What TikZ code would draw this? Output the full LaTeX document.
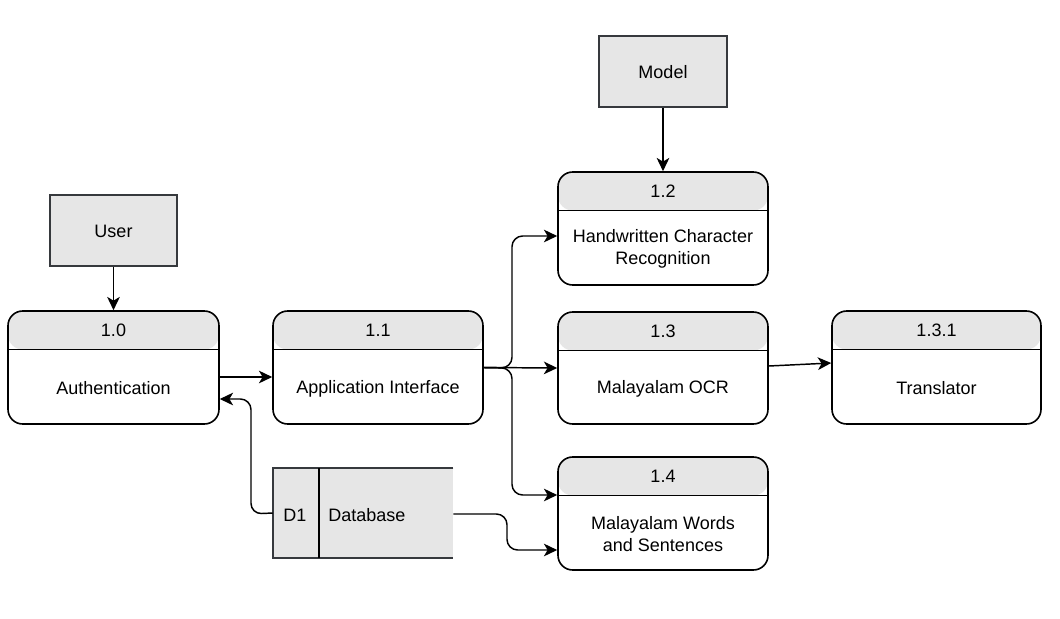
\documentclass[tikz,border=0pt]{standalone}
\usepackage{fontspec}
\setmainfont{Liberation Sans}
\usetikzlibrary{arrows.meta,fit,calc}
\definecolor{boxgray}{HTML}{E6E6E6}
\definecolor{edgegray}{HTML}{36393D}
\begin{document}
\begin{tikzpicture}[x=0.75pt,y=-0.75pt,
  every node/.style={font=\fontsize{13.5}{16}\selectfont, text=black},
  ext/.style={draw=edgegray, fill=boxgray, line width=1.2pt, inner sep=0pt},
  proc/.style={draw=black, fill=white, line width=1.2pt, rounded corners=11pt, inner sep=0pt,
    path picture={
      \fill[boxgray] (path picture bounding box.north west) rectangle ($(path picture bounding box.north east)+(0,38.5)$);
      \draw[line width=1.3pt] ($(path picture bounding box.north west)+(0,38.5)$) -- ($(path picture bounding box.north east)+(0,38.5)$);
    }},
  conn/.style={draw=black, line width=1.1pt, rounded corners=8pt, -{Stealth[length=10pt,width=9.5pt,inset=2.8pt]}},
  lbl/.style={align=center, inner sep=0pt}
]
\useasboundingbox[fill=white] (0,0) rectangle (1060,618);

% external entities
\node[ext, fit={(50,195)(177,266)}] (user) {};
\node[lbl] at ($(user.center)+(0,1)$) {User};
\node[ext, fit={(599,36)(727,107)}] (model) {};
\node[lbl] at ($(model.center)+(0,1)$) {Model};

% processes
\node[proc, fit={(8,311)(219,424)}] (p10) {};
\node[lbl] at (113.5,330.5) {1.0};
\node[lbl] at (113.5,388.5) {Authentication};

\node[proc, fit={(273,311)(483,424)}] (p11) {};
\node[lbl] at (378,330.5) {1.1};
\node[lbl] at (378,388.5) {Application Interface};

\node[proc, fit={(558,172)(768,285)}] (p12) {};
\node[lbl] at (663,191) {1.2};
\node[lbl] at (663,249) {Handwritten Character\\Recognition};

\node[proc, fit={(558,312)(768,424)}] (p13) {};
\node[lbl] at (663,331) {1.3};
\node[lbl] at (663,388.5) {Malayalam OCR};

\node[proc, fit={(832,311)(1041,424)}] (p131) {};
\node[lbl] at (936.5,330.5) {1.3.1};
\node[lbl] at (936.5,388.5) {Translator};

\node[proc, fit={(558,457)(768,570)}] (p14) {};
\node[lbl] at (663,476) {1.4};
\node[lbl] at (663,534) {Malayalam Words\\and Sentences};

% data store
\node[fill=boxgray, inner sep=0pt, fit={(273,468)(453,558)}] (db) {};
\draw[edgegray, line width=1.2pt] (db.north east) -- (db.north west) -- (db.south west) -- (db.south east);
\draw[black, line width=1.6pt] (319,468) -- (319,558);
\node[lbl] at (295,515) {D1};
\node[lbl, anchor=west] at (328,515) {Database};

% connectors
\draw[conn] (user) -- (p10);
\draw[conn] (model) -- (p12);
\draw[conn] (p10.east |- 0,377) -- (p11.west |- 0,377);
\draw[conn] (p11.east) -- (512,368) -- (512,236) -- (p12.west |- 0,236);
\draw[conn] (p11.east) -- (p13.west);
\draw[conn] (p11.east) -- (512,368) -- (512,495) -- (p14.west |- 0,495);
\draw[conn] (p13.east |- 0,366) -- (p131.west |- 0,363);
\draw[conn] (db.west) -- (251,514) -- (251,399) -- (p10.east |- 0,399);
\draw[conn] (db.east |- 0,514) -- (507,514) -- (507,550) -- (p14.west |- 0,550);
\end{tikzpicture}
\end{document}
